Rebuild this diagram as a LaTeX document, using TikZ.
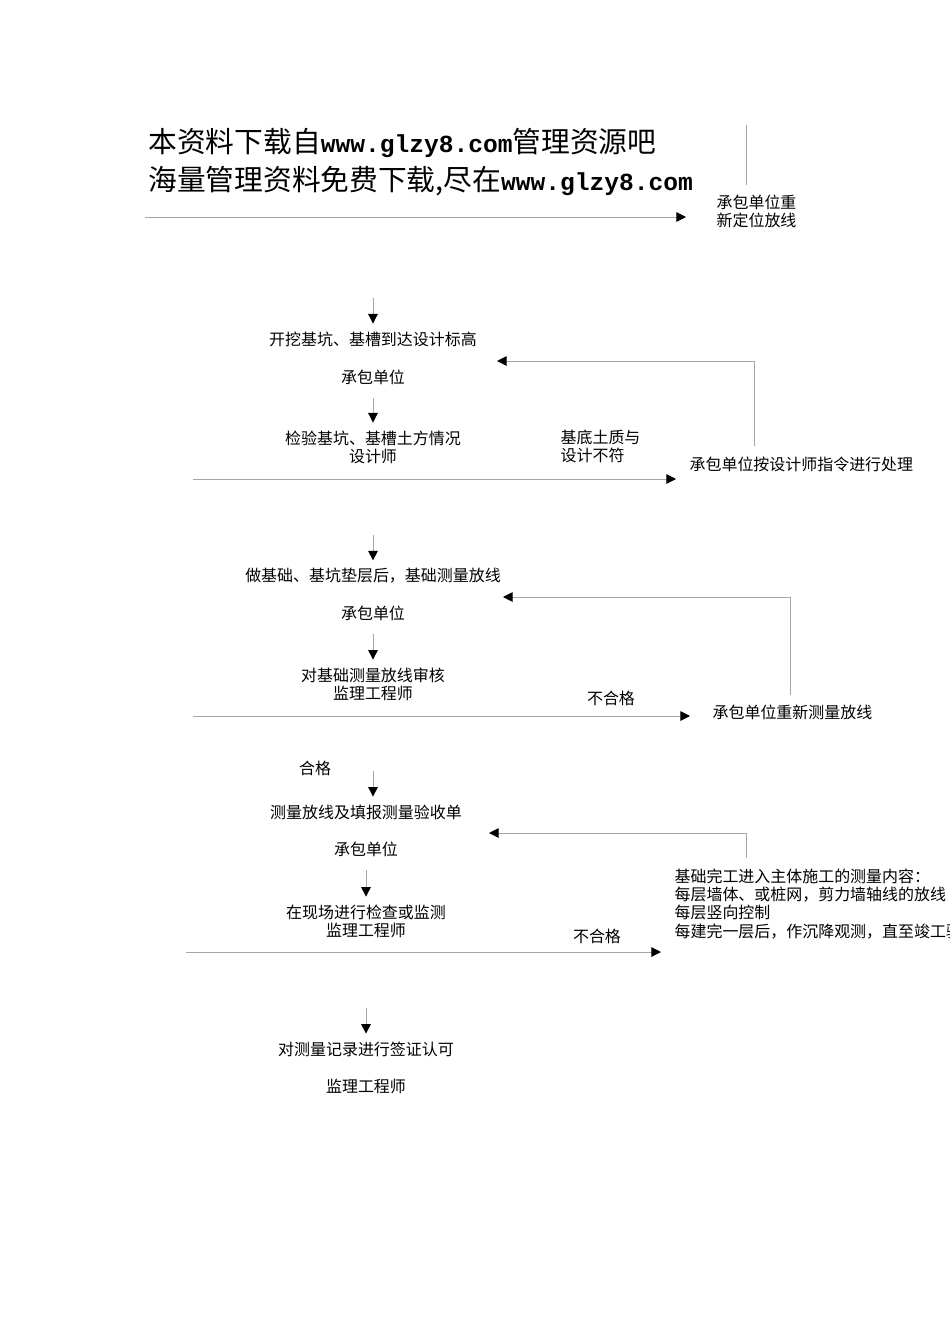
\documentclass[tikz,border=0pt]{standalone}
\usepackage{fontspec}
\newfontfamily\cjk{Noto Sans CJK SC}
\newfontfamily\hdrmono{Liberation Mono}
\usetikzlibrary{arrows.meta,positioning,calc}

\begin{document}
\begin{tikzpicture}[x=0.6263pt,y=-0.6263pt,
		txt/.style={font=\cjk\fontsize{10}{11.3}\selectfont, align=center, inner sep=1pt, outer sep=4pt},
		ltxt/.style={txt, align=left, anchor=west, outer sep=0pt},
		hdr/.style={font=\cjk\fontsize{18}{22}\selectfont, anchor=west, inner sep=0pt},
		arr/.style={draw=black!35, line width=0.6pt, -{Triangle[black,length=6pt,width=6pt]}},
		ln/.style={draw=black!35, line width=0.6pt}]
	\useasboundingbox (0,0) rectangle (950,1344);
	\clip (0,0) rectangle (950,1344);
	% header
	\path 	(148,143) node (h1) [hdr] {本资料下载自{\hdrmono\bfseries\fontsize{15.4}{22}\selectfont www.glzy8.com}管理资源吧}
	        (148,181) node (h2) [hdr] {海量管理资料免费下载,尽在{\hdrmono\bfseries\fontsize{15.4}{22}\selectfont www.glzy8.com}};
	\draw [ln] (746,125) -- (746,185);
	% first row
	\path 	(715,211) node (redo1) [ltxt] {承包单位重\\新定位放线}
	        (145,217) coordinate (r1a)
	        (686,217) coordinate (r1b);
	\draw [arr] (r1a) -- (r1b);
	% steps
	\path 	(373,339) node (dig) [txt] {开挖基坑、基槽到达设计标高}
	        (373,377) node (cb1) [txt] {承包单位}
	        (373,447) node (chk) [txt] {检验基坑、基槽土方情况\\设计师}
	        (373,576) node (fnd) [txt] {做基础、基坑垫层后，基础测量放线}
	        (373,613) node (cb2) [txt] {承包单位}
	        (373,684) node (aud) [txt] {对基础测量放线审核\\监理工程师}
	        (315,768) node (ok) [txt] {合格}
	        (366,812) node (meas) [txt] {测量放线及填报测量验收单}
	        (366,849) node (cb3) [txt] {承包单位}
	        (366,921) node (site) [txt] {在现场进行检查或监测\\监理工程师}
	        (366,1049) node (sign) [txt] {对测量记录进行签证认可}
	        (366,1086) node (eng) [txt] {监理工程师};
	\path 	(373,298) coordinate (s1) (373,398) coordinate (s2)
	        (373,535) coordinate (s3) (373,634) coordinate (s4)
	        (373,771) coordinate (s5) (366,870) coordinate (s6)
	        (366,1008) coordinate (s7);
	\draw [arr] (s1) -- (dig);
	\draw [arr] (s2) -- (chk);
	\draw [arr] (s3) -- (fnd);
	\draw [arr] (s4) -- (aud);
	\draw [arr] (s5) -- (s5 |- meas.north);
	\draw [arr] (s6) -- (site);
	\draw [arr] (s7) -- (sign);
	% side branches
	\path 	(559,446) node (soil) [ltxt] {基底土质与\\设计不符}
	        (688,464) node (fix) [ltxt] {承包单位按设计师指令进行处理}
	        (611,698) node (ng1) [txt] {不合格}
	        (711,712) node (redo2) [ltxt] {承包单位重新测量放线}
	        (597,936) node (ng2) [txt] {不合格}
	        (673,904) node (main) [ltxt] {基础完工进入主体施工的测量内容：\\每层墙体、或桩网，剪力墙轴线的放线\\每层竖向控制\\每建完一层后，作沉降观测，直至竣工验收};
	\path 	(193,479) coordinate (r2a) (676,479) coordinate (r2b)
	        (193,716) coordinate (r3a) (690,716) coordinate (r3b)
	        (186,952) coordinate (r4a) (661,952) coordinate (r4b);
	\draw [arr] (r2a) -- (r2b);
	\draw [arr] (r3a) -- (r3b);
	\draw [arr] (r4a) -- (r4b);
	% feedback loops
	\path 	(754,446) coordinate (b1a) (497,361) coordinate (b1b)
	        (790,695) coordinate (b2a) (503,597) coordinate (b2b)
	        (746,858) coordinate (b3a) (489,833) coordinate (b3b);
	\draw [arr] (b1a) |- (b1b);
	\draw [arr] (b2a) |- (b2b);
	\draw [arr] (b3a) |- (b3b);
\end{tikzpicture}
\end{document}
